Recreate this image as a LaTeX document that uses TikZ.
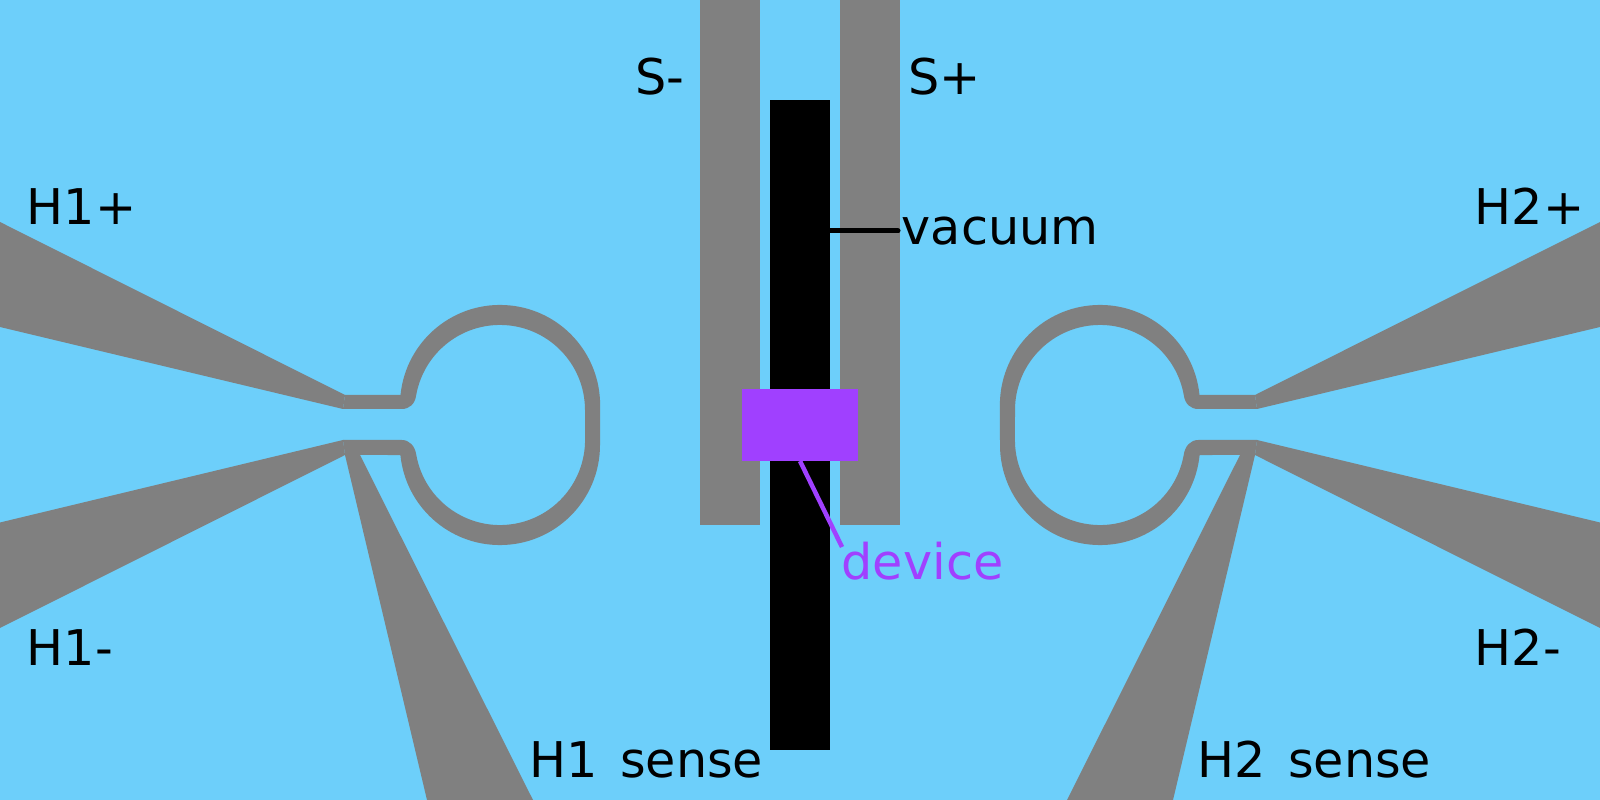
\documentclass[tikz,border=0pt]{standalone}
\usepackage{fontspec}
\setmainfont[WordSpace=1.45]{DejaVu Sans}
\usepackage{tikz}
\usetikzlibrary{positioning, calc}
\definecolor{vacblue}{RGB}{109,207,250}
\definecolor{metalgray}{RGB}{128,128,128}
\definecolor{devpurple}{RGB}{160,64,255}
\tikzstyle{strip} = [rectangle, minimum width=0.6cm, minimum height=5.25cm, inner sep=0, outer sep=0, fill=metalgray]
\tikzstyle{probe} = [rectangle, minimum width=0.6cm, minimum height=6.5cm, inner sep=0, outer sep=0, fill=black]
\tikzstyle{device} = [rectangle, minimum width=1.16cm, minimum height=0.72cm, inner sep=0, outer sep=0, fill=devpurple]
\tikzstyle{tag} = [anchor=base west, inner sep=0, font=\fontsize{14}{14}\selectfont]
\newcommand{\heaterloop}{
\fill [metalgray] (0,578) -- (345,405) -- (343,391) -- (0,473) -- cycle;
\fill [metalgray] (0,277.5) -- (343,360) -- (345,345) -- (0,172) -- cycle;
\fill [metalgray] (345,345) -- (360,345) -- (533,0) -- (427,0) -- cycle;
% ring, outer edge and then inner edge
\fill [metalgray] (345,405) -- (400.5,405) arc (174.26:0:1cm) -- (600,355) arc (0:-174.26:1cm)
  -- (345,345) -- (343,360) -- (401.7,360) .. controls (409.5,360) and (415,354) .. (416.3,345)
  arc (190.16:360:0.85cm) -- (585,390) arc (0:169.84:0.85cm)
  .. controls (415,396) and (409.5,391) .. (401.7,391) -- (343,391) -- cycle;
}

\begin{document}
\begin{tikzpicture}[x=0.01cm, y=0.01cm]
\useasboundingbox (0,0) rectangle (1600,800);
\fill [vacblue] (0,0) rectangle (1600,800);
\heaterloop
\begin{scope}[shift={(1600,0)}, xscale=-1]
\heaterloop
\end{scope}
\node (sminus) [strip] at (730,537.5) {};
\node (splus) [strip] at (870,537.5) {};
\node (beam) [probe] at (800,375) {};
\node (dev) [device] at (800,375) {};
\node (sminustag) [tag] at (635,705) {S-};
\node (splustag) [tag] at (908,705) {S+};
\node (vactag) [tag] at (901,555) {vacuum};
\node (devtag) [tag, text=devpurple] at (841,220) {device};
\node (hoptag) [tag] at (26,575.5) {H1+};
\node (homtag) [tag] at (26,134) {H1-};
\node (htptag) [tag] at (1474,575.5) {H2+};
\node (htmtag) [tag] at (1474,134) {H2-};
\node (hosense) [tag] at (528.5,22) {H1 sense};
\node (htsense) [tag] at (1196.5,22) {H2 sense};
\coordinate (vacstart) at (beam.east |- 0,569);
\coordinate (vacend) at (898,569);
\coordinate (devend) at (842,253);
\draw [line width=0.05cm, black, line cap=round] (vacstart) -- (vacend);
\draw [line width=0.045cm, devpurple] (dev.south) -- (devend);
\end{tikzpicture}
\end{document}
